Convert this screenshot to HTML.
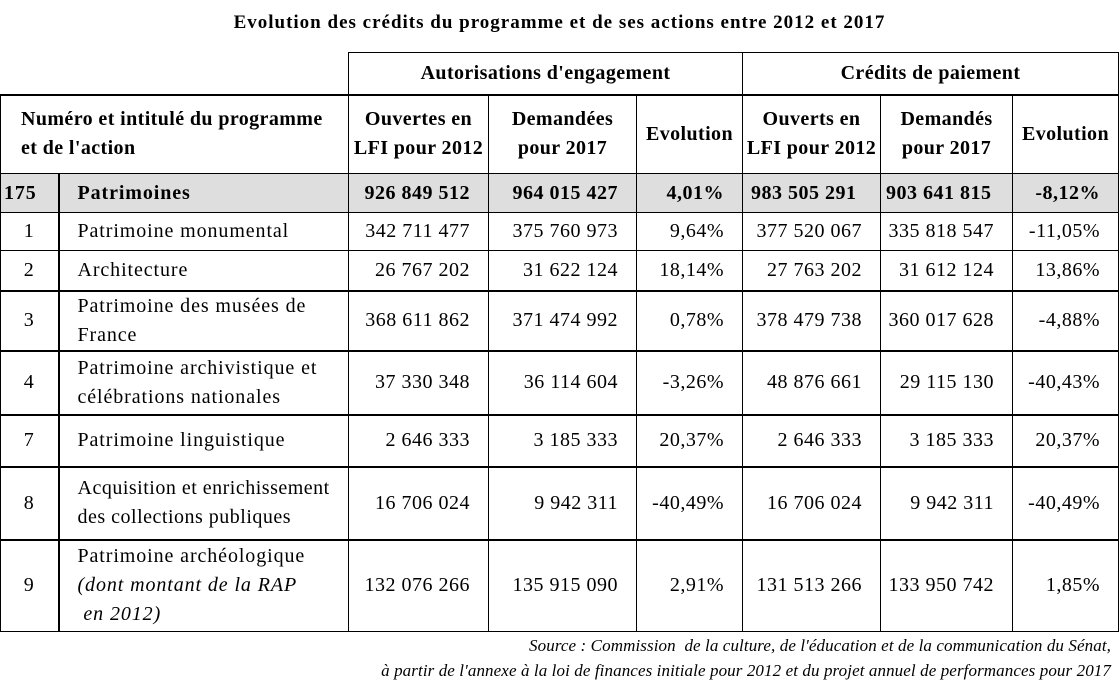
<!DOCTYPE html>
<html><head><meta charset="utf-8">
<style>
body{margin:0;width:1119px;height:688px;background:#fff;font-family:"Liberation Serif",serif;color:#000;position:relative;overflow:hidden}
#title{position:absolute;top:12px;left:0;width:1119px;text-align:center;font-weight:bold;font-size:19px;letter-spacing:1px}
table{position:absolute;top:52px;left:0;border-collapse:collapse;table-layout:fixed;font-size:20px;letter-spacing:0.9px}
td{border:1px solid #000;padding:0;line-height:29px;white-space:nowrap}
.h{font-weight:bold;text-align:center;letter-spacing:0.4px}
.n{text-align:right;padding-right:18px;letter-spacing:0.5px}
.c{text-align:center}
.l{padding-left:18px}
.tk td{border-top:2px solid #000}
.g td{background:#dedede;font-weight:bold}
td.v{border-left:2px solid #000}
.src{position:absolute;right:8px;font-style:italic;font-size:17px;letter-spacing:0.1px}
</style></head><body>
<div id="title">Evolution des crédits du programme et de ses actions entre 2012 et 2017</div>
<table>
<colgroup><col style="width:58px"><col style="width:290px"><col style="width:140px"><col style="width:148px"><col style="width:106px"><col style="width:138px"><col style="width:132px"><col style="width:106px"></colgroup>
<tr style="height:42px"><td colspan="2" style="border:none;border-bottom:2px solid #000"></td><td colspan="3" class="h" style="border-bottom:2px solid #000">Autorisations d'engagement</td><td colspan="3" class="h" style="border-bottom:2px solid #000">Crédits de paiement</td></tr>
<tr style="height:79px" class="h"><td colspan="2" style="text-align:left;padding-left:20px;font-weight:bold">Numéro et intitulé du programme<br>et de l'action</td><td class="h">Ouvertes en<br>LFI pour 2012</td><td class="h">Demandées<br>pour 2017</td><td class="h">Evolution</td><td class="h">Ouverts en<br>LFI pour 2012</td><td class="h">Demandés<br>pour 2017</td><td class="h">Evolution</td></tr>
<tr style="height:39px" class="g"><td style="padding-left:3px">175</td><td class="l v">Patrimoines</td><td class="n">926 849 512</td><td class="n">964 015 427</td><td class="n">4,01%</td><td style="padding-left:8px;letter-spacing:0.5px">983 505 291</td><td style="padding-left:5px;letter-spacing:0.5px">903 641 815</td><td class="n">-8,12%</td></tr>
<tr style="height:38px"><td class="c">1</td><td class="l v">Patrimoine monumental</td><td class="n">342 711 477</td><td class="n">375 760 973</td><td class="n">9,64%</td><td class="n">377 520 067</td><td class="n">335 818 547</td><td class="n">-11,05%</td></tr>
<tr style="height:40px"><td class="c">2</td><td class="l v">Architecture</td><td class="n">26 767 202</td><td class="n">31 622 124</td><td class="n">18,14%</td><td class="n">27 763 202</td><td class="n">31 612 124</td><td class="n">13,86%</td></tr>
<tr style="height:60px" class="tk"><td class="c">3</td><td class="l v">Patrimoine des musées de<br>France</td><td class="n">368 611 862</td><td class="n">371 474 992</td><td class="n">0,78%</td><td class="n">378 479 738</td><td class="n">360 017 628</td><td class="n">-4,88%</td></tr>
<tr style="height:64px" class="tk"><td class="c">4</td><td class="l v">Patrimoine archivistique et<br>célébrations nationales</td><td class="n">37 330 348</td><td class="n">36 114 604</td><td class="n">-3,26%</td><td class="n">48 876 661</td><td class="n">29 115 130</td><td class="n">-40,43%</td></tr>
<tr style="height:52px" class="tk"><td class="c">7</td><td class="l v">Patrimoine linguistique</td><td class="n">2 646 333</td><td class="n">3 185 333</td><td class="n">20,37%</td><td class="n">2 646 333</td><td class="n">3 185 333</td><td class="n">20,37%</td></tr>
<tr style="height:73px" class="tk"><td class="c">8</td><td class="l v" style="letter-spacing:0.5px">Acquisition et enrichissement<br>des collections publiques</td><td class="n">16 706 024</td><td class="n">9 942 311</td><td class="n">-40,49%</td><td class="n">16 706 024</td><td class="n">9 942 311</td><td class="n">-40,49%</td></tr>
<tr style="height:92px" class="tk"><td class="c">9</td><td class="l v">Patrimoine archéologique<br><i>(dont montant de la RAP<br>&nbsp;en 2012)</i></td><td class="n">132 076 266</td><td class="n">135 915 090</td><td class="n">2,91%</td><td class="n">131 513 266</td><td class="n">133 950 742</td><td class="n">1,85%</td></tr>
</table>
<div class="src" style="top:636px">Source : Commission&nbsp; de la culture, de l'éducation et de la communication du Sénat,</div>
<div class="src" style="top:661px">à partir de l'annexe à la loi de finances initiale pour 2012 et du projet annuel de performances pour 2017</div>
</body></html>
